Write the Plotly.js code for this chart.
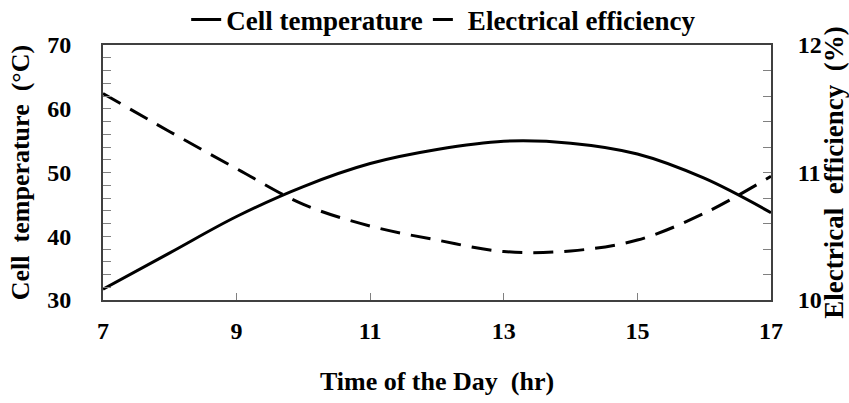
<!DOCTYPE html>
<html>
<head>
<meta charset="utf-8">
<script src="https://cdn.plot.ly/plotly-3.0.1.min.js"></script>
<style>html,body{margin:0;padding:0;background:#fff;}#chart{width:849px;height:403px;}</style>
</head>
<body>
<div id="chart"></div>
<script>
const hours = [7, 8, 9, 10, 11, 12, 13, 14, 15, 16, 17];
const cellTemperature = [31.7, 37.4, 43.1, 47.8, 51.4, 53.6, 54.9, 54.6, 52.9, 49.1, 43.7];
const electricalEfficiency = [11.62, 11.32, 11.03, 10.75, 10.58, 10.47, 10.38, 10.385, 10.47, 10.68, 10.97];
const xTicks = [7, 9, 11, 13, 15, 17];

const FONT = 'Liberation Serif, Times New Roman, serif';
const tickFont = {family: FONT, size: 24, color: '#000', weight: 700};
const titleFont = {family: FONT, size: 26, color: '#000', weight: 700};

const traces = [
  {
    x: hours, y: cellTemperature, name: 'Cell temperature', type: 'scatter', mode: 'lines',
    line: {color: '#000', width: 3, shape: 'spline', smoothing: 1}, yaxis: 'y'
  },
  {
    x: hours, y: electricalEfficiency, name: 'Electrical efficiency', type: 'scatter', mode: 'lines',
    line: {color: '#000', width: 3, shape: 'spline', smoothing: 1, dash: '20px,11px'}, yaxis: 'y2'
  }
];

const layout = {
  width: 849, height: 403,
  margin: {l: 103, r: 78, t: 45, b: 103, autoexpand: false},
  paper_bgcolor: '#fff', plot_bgcolor: '#fff',
  showlegend: true,
  legend: {
    orientation: 'h', x: 0.51, xanchor: 'center', y: 1.098, yanchor: 'middle',
    font: {family: FONT, size: 27, color: '#000', weight: 700},
    itemwidth: 30, tracegroupgap: 0, bgcolor: 'rgba(0,0,0,0)'
  },
  xaxis: {
    range: [7, 17], tickvals: xTicks, ticktext: xTicks.map(String),
    ticks: 'inside', ticklen: 7, tickcolor: '#808080', tickwidth: 1,
    showline: true, linecolor: '#404040', linewidth: 2, mirror: true,
    showgrid: false, zeroline: false, ticklabelstandoff: 8,
    tickfont: tickFont,
    title: {text: 'Time of the Day  (hr)', font: titleFont, standoff: 29}
  },
  yaxis: {
    range: [30, 70], tickvals: [30, 40, 50, 60, 70],
    ticks: 'inside', ticklen: 8, tickcolor: '#808080', tickwidth: 1,
    minor: {dtick: 2, ticks: 'inside', ticklen: 8, tickcolor: '#808080', tickwidth: 1, showgrid: false},
    showline: true, linecolor: '#404040', linewidth: 2,
    showgrid: false, zeroline: false, ticklabelstandoff: 25,
    tickfont: tickFont,
    title: {text: 'Cell  temperature  (°C)', font: titleFont, standoff: 10}
  },
  yaxis2: {
    range: [10, 12], tickvals: [10, 11, 12], overlaying: 'y', side: 'right',
    ticks: 'inside', ticklen: 8, tickcolor: '#808080', tickwidth: 1,
    minor: {dtick: 0.2, ticks: 'inside', ticklen: 8, tickcolor: '#808080', tickwidth: 1, showgrid: false},
    showline: true, linecolor: '#404040', linewidth: 2,
    showgrid: false, zeroline: false, ticklabelstandoff: 20,
    tickfont: tickFont,
    title: {text: 'Electrical  efficiency  (%)', font: {family: FONT, size: 27, color: '#000', weight: 700}, standoff: 6}
  }
};

Plotly.newPlot('chart', traces, layout, {staticPlot: true, displayModeBar: false});
</script>
</body>
</html>
